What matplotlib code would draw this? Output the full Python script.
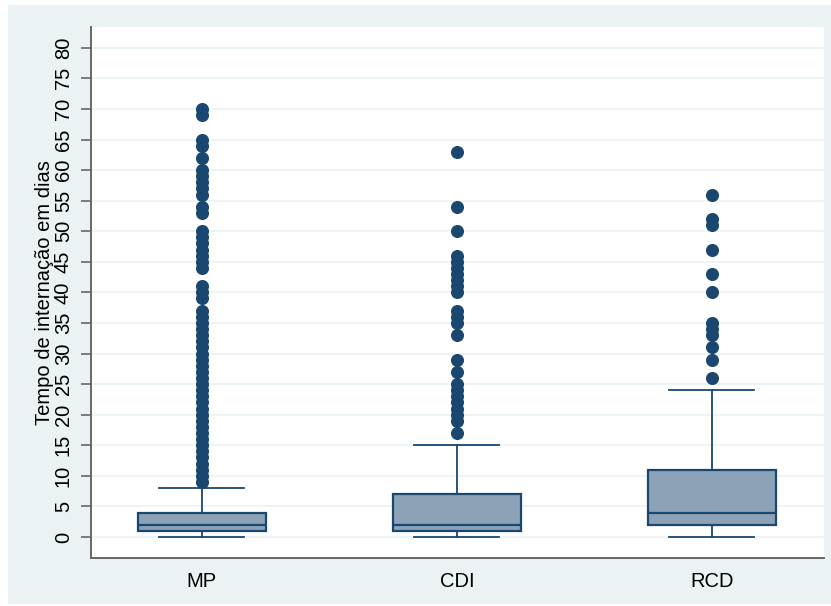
import matplotlib
matplotlib.use("Agg")
import matplotlib.pyplot as plt
from matplotlib.patches import Rectangle

plt.rcParams['font.family'] = ['Liberation Sans', 'DejaVu Sans']

groups = ["MP", "CDI", "RCD"]
whisker_low = [0, 0, 0]
q1 = [1, 1, 2]
median = [2, 2, 4]
q3 = [4, 7, 11]
whisker_high = [8, 15, 24]

mp_outliers = list(range(9, 38)) + [39, 40, 41, 44, 45, 46, 47, 48, 49, 50,
                                    53, 54, 56, 57, 58, 59, 60, 62, 64, 65, 69, 70]
cdi_outliers = [17, 19, 20, 21, 22, 23, 24, 25, 27, 29, 33, 35, 36, 37,
                40, 41, 42, 43, 44, 45, 46, 50, 54, 63]
rcd_outliers = [26, 29, 31, 33, 34, 35, 40, 43, 47, 51, 52, 56]
outliers = [mp_outliers, cdi_outliers, rcd_outliers]

y_ticks = list(range(0, 85, 5))

navy = "#1a476f"
fill = "#8ca2b6"
bg = "#eaf2f3"

fig = plt.figure(figsize=(8.31, 6.06), dpi=100)
fig.patch.set_facecolor("white")
fig.patches.append(Rectangle((8 / 831, 2 / 606), 823 / 831, 599 / 606,
                             transform=fig.transFigure, facecolor=bg,
                             edgecolor="none", zorder=-10))

ax = fig.add_axes([91 / 831, 48 / 606, 733 / 831, 531 / 606])
ax.set_facecolor("white")

stats = []
for i, name in enumerate(groups):
    stats.append({"label": name, "whislo": whisker_low[i], "q1": q1[i],
                  "med": median[i], "q3": q3[i], "whishi": whisker_high[i],
                  "fliers": outliers[i]})

ax.bxp(stats, positions=[1, 2, 3], widths=0.5, patch_artist=True,
       boxprops=dict(facecolor=fill, edgecolor=navy, linewidth=1.6),
       medianprops=dict(color=navy, linewidth=1.6),
       whiskerprops=dict(color=navy, linewidth=1.3),
       capprops=dict(color=navy, linewidth=1.3),
       capwidths=0.333,
       flierprops=dict(marker="o", markerfacecolor=navy, markeredgecolor=navy,
                       markersize=8.4, linestyle="none"),
       zorder=3)

ax.set_xlim(0.565, 3.44)
ax.set_ylim(-3.44, 83.4)
ax.set_yticks(y_ticks)
ax.set_yticklabels([str(v) for v in y_ticks], rotation=90, va="center")
ax.yaxis.grid(True, color=bg, linewidth=1.2, zorder=0)
ax.set_axisbelow(True)

for side in ["top", "right"]:
    ax.spines[side].set_visible(False)
for side in ["left", "bottom"]:
    ax.spines[side].set_color("#666666")
    ax.spines[side].set_linewidth(1.4)

ax.tick_params(axis="y", length=7, width=1.2, color="#666666", labelsize=14.5, pad=6)
ax.tick_params(axis="x", length=0, labelsize=14.5, pad=10)
ax.set_ylabel("Tempo de internação em dias", fontsize=14.5, labelpad=0)

fig.savefig("out.png", dpi=100)
